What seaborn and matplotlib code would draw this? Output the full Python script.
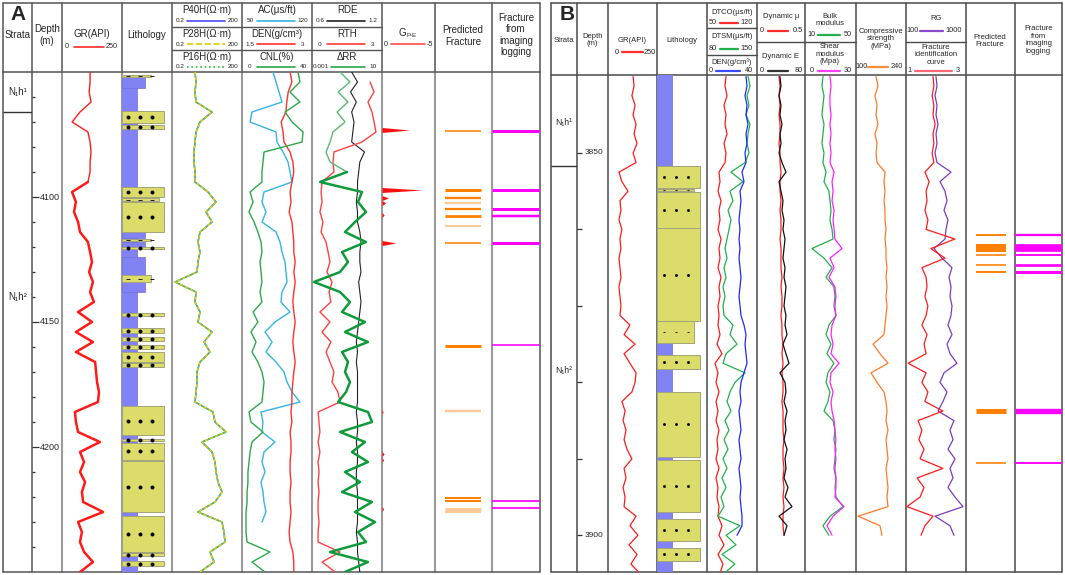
import numpy as np
import seaborn as sns
import matplotlib.pyplot as plt
from matplotlib.patches import Rectangle

sns.set_style("white")
plt.rcParams["font.family"] = ["Liberation Sans", "DejaVu Sans"]

nan = np.nan
W, H = 1065, 575

# =============================================================================
# PANEL A DATA  (4 m sampling, 4050-4250 m)
# =============================================================================

depth_a = np.arange(4050.0, 4250.1, 4.0)

gr_a = [117, 117, 113, 121, 75, 42, 108, 117, 121, 117, 117, 108, 42, 58, 50, 67, 75,
        108, 117, 125, 113, 129, 117, 133, 67, 125, 58, 129, 58, 138, 142, 146, 154,
        150, 54, 58, 67, 158, 75, 92, 75, 96, 83, 88, 171, 67, 83, 75, 92, 129, 75]

p16h = [1.94, 2.14, 1.94, 2.14, 10.4, 3.17, 2.14, 1.94, 1.75, 1.75, 1.94, 1.94, 6.98,
        15.4, 5.73, 10.4, 3.17, 2.60, 3.17, 2.60, 2.36, 0.27, 2.14, 1.94, 3.17, 2.60,
        10.4, 4.70, 8.50, 3.17, 2.36, 2.36, 2.14, 1.94, 11.4, 13.9, 41.2, 3.86, 10.4,
        13.9, 15.4, 18.7, 27.8, 13.9, 2.60, 27.8, 33.9, 37.3, 8.50, 12.6, 3.17]
p28h = list(p16h)
p40h = list(p16h)

ac_a = [81, 84, 87, 90, 60, 58, 84, 85, 91, 96, 98, 100, 72, 70, 74, 70, 84, 88, 90, 93,
        94, 95, 90, 89, 98, 83, 73, 80, 74, 84, 92, 95, 100, 108, 69, 71, 70, 83, 72, 70,
        73, 69, 71, 72, 74, 70, nan, nan, nan, nan, nan]

den_a = [2.53, 2.57, 2.49, 2.46, 2.44, 2.34, 2.38, 2.40, 2.53, 2.59, 2.61, 2.57, 2.53,
         2.55, 2.51, 2.57, 2.59, 2.61, 2.61, 2.64, 2.61, 2.64, 2.61, 2.59, 2.61, 2.64,
         2.61, 2.59, 2.61, 2.64, 2.61, 2.59, 2.57, 2.57, 2.55, 2.57, 2.53, 2.55, 2.55,
         2.53, 2.53, 2.55, 2.53, 2.53, 2.55, 2.53, 2.51, 2.53, 2.59, 2.61, 2.61]

cnl_a = [32.0, 33.1, 27.4, 33.1, 24.6, 28.6, 34.9, 34.3, 12.6, 12.0, 11.4, 11.4, 4.6,
         6.3, 4.0, 6.9, 9.1, 10.9, 11.4, 10.3, 10.9, 11.4, 10.3, 11.4, 6.3, 9.1, 5.1,
         8.0, 5.7, 9.1, 11.4, 12.6, 12.0, 11.4, 4.0, 5.1, 12.0, 5.7, 4.6, 4.0, 3.4, 3.4,
         2.9, 2.9, 2.3, 2.3, 2.3, 2.9, 16.0, 5.7, 13.1]

rde_a = [0.94, 0.99, 0.93, 0.98, 0.94, 0.96, 0.95, 0.94, 1.05, 1.01, 1.00, 0.99, 0.99,
         0.98, 0.99, 0.99, 1.01, 1.02, 1.01, 1.01, 1.02, 1.00, 1.01, 1.02, 1.01, 1.00,
         0.99, 0.98, 0.99, 0.98, 0.99, 0.99, 0.99, 0.99, 0.98, 0.99, 0.99, 0.98, 0.99,
         0.99, 0.98, 0.98, 0.99, 0.99, 0.99, 0.99, 0.98, 0.99, 0.99, 1.00, 1.01]

rth_a = [nan, 2.49, 2.66, 2.40, 2.57, 2.66, 2.74, 2.14, 0.94, 0.90, 0.94, 0.43, 0.39,
         0.43, 0.34, 0.47, 0.39, 0.60, 0.69, 0.77, 0.64, 0.86, 0.73, 0.81, 0.34, 0.77,
         0.43, 0.81, 0.60, 0.77, 0.94, 0.86, 1.11, 1.20, 0.26, 0.30, 0.34, 0.26, 0.34,
         0.26, 0.30, 0.26, 0.30, 0.26, 0.26, 0.30, 0.26, 0.26, 1.20, 0.43, 0.99]

drr_a = [0.040, 0.148, 0.031, 0.114, 0.027, 0.077, 0.0158, 0.0107, 0.0063, 0.0107, 0.100,
         0.0029, 0.72, 0.425, 1.22, 0.286, 0.077, 1.22, 0.052, 0.114, 0.040, 0.0013,
         0.040, 0.148, 0.052, 1.07, 0.077, 1.58, 0.052, 0.114, 0.077, 0.148, 0.088, 0.031,
         1.58, 2.68, 0.040, 1.07, 0.193, 1.58, 0.077, 0.553, 0.052, 2.68, 0.286, 3.98,
         0.425, 1.22, 0.0107, 1.58, 0.077]

# G(P-E) spikes
g_depth_a = [4073.2, 4097.2, 4100.4, 4102.4, 4107.2, 4118.4, 4186.0, 4202.8, 4205.2, 4224.8]
g_peak_a = [-2.6, -3.8, -0.6, -0.35, -0.2, -1.3, -0.1, -0.2, -0.15, -0.15]

# lithology: S sandstone, Z siltstone, A argillaceous siltstone, M silty mudstone
lith_a_top = [4051.2, 4052.0, 4065.6, 4071.2, 4096.0, 4100.4, 4102.0, 4114.0, 4116.8,
              4118.0, 4120.0, 4124.0, 4131.2, 4134.0, 4146.4, 4152.4, 4156.0, 4159.2,
              4162.0, 4166.4, 4183.6, 4196.8, 4198.4, 4205.6, 4227.6, 4242.4, 4245.6]
lith_a_bot = [4052.0, 4056.4, 4070.4, 4072.8, 4100.0, 4101.6, 4114.0, 4116.4, 4117.6,
              4120.0, 4120.8, 4131.2, 4134.0, 4138.0, 4147.6, 4154.4, 4157.6, 4160.8,
              4166.0, 4168.0, 4195.2, 4197.6, 4205.2, 4226.0, 4242.0, 4243.6, 4247.6]
lith_a_kind = ["A", "M", "S", "S", "S", "Z", "S", "M", "A", "M", "S", "M", "A", "M",
               "S", "S", "S", "S", "S", "S", "S", "S", "S", "S", "S", "S", "S"]

pred_a_depth = [4073.5, 4097.2, 4100.5, 4102.5, 4104.7, 4107.6, 4111.5, 4118.3, 4159.5,
                4185.6, 4220.3, 4221.5, 4224.8, 4225.9]
pred_a_thick = [0.6, 1.2, 0.9, 0.9, 0.9, 1.1, 0.8, 0.6, 1.2, 1.0, 0.8, 0.8, 1.2, 0.8]
pred_a_grade = ["high", "high", "high", "low", "high", "high", "low", "high", "high",
                "low", "high", "high", "low", "low"]
img_a_depth = [4073.5, 4097.2, 4104.7, 4107.6, 4118.3, 4159.3, 4221.5, 4224.2]
img_a_thick = [1.2, 1.2, 1.2, 1.0, 1.2, 0.5, 0.7, 0.7]

strata_names = ["N\u2081h\u00b9", "N\u2081h\u00b2"]
strata_a_base = [4066.0]
strata_a_label = [4058.0, 4140.0]

# =============================================================================
# PANEL B DATA  (1.25 m sampling, 3840-3905 m)
# =============================================================================

depth_b = np.arange(3840.0, 3905.1, 1.25)

gr_b = [128, 133, 122, 138, 128, 143, 133, 148, 128, 143, 56, 71, 102, 61, 66, 56, 71,
        61, 66, 56, 61, 66, 56, 61, 66, 61, 112, 82, 138, 82, 112, 143, 138, 122, 71,
        87, 77, 92, 82, 97, 122, 82, 92, 77, 87, 82, 143, 112, 153, 107, 148, 117, 163]

dtco = [76.6, 75.2, 78, 73.8, 76.6, 75.2, 78, 73.8, 76.6, 75.2, 66.8, 68.2, 65.4, 69.6,
        66.8, 68.2, 65.4, 69.6, 66.8, 68.2, 65.4, 69.6, 66.8, 68.2, 65.4, 66.8, 65.4,
        68.2, 64, 71, 61.2, 65.4, 62.6, 66.8, 62.6, 65.4, 62.6, 66.8, 64, 65.4, 62.6,
        66.8, 62.6, 65.4, 64, 66.8, 65.4, 71, 66.8, 73.8, 65.4, 72.4, 68.2]

dtsm = [137.4, 140.2, 136, 138.8, 134.6, 140.2, 137.4, 136, 138.8, 133.2, 113.6, 130.4,
        112.2, 116.4, 109.4, 113.6, 110.8, 108, 105.2, 108, 103.8, 106.6, 102.4, 105.2,
        102.4, 103.8, 116.4, 112.2, 122, 106.6, 102.4, 133.2, 119.2, 112.2, 108, 113.6,
        105.2, 110.8, 103.8, 109.4, 102.4, 108, 101, 106.6, 99.6, 103.8, 95.4, 126.2,
        106.6, 120.6, 101, 119.2, 103.8]

den_b = [31.2, 32, 30.4, 32, 31.2, 32.8, 31.2, 32, 30.4, 31.2, 28, 29.6, 26.4, 27.2, 26.4,
         25.6, 26.4, 25.6, 26.4, 25.6, 26.4, 27.2, 26.4, 25.6, 26.4, 27.2, 29.6, 31.2,
         30.4, 31.2, 32, 29.6, 27.2, 26.4, 27.2, 25.6, 26.4, 27.2, 25.6, 26.4, 27.2, 25.6,
         26.4, 27.2, 26.4, 27.2, 28, 28, 24, nan, nan, nan, nan]

dyn_mu = [0.229, 0.240, 0.229, 0.240, 0.229, 0.240, 0.240, 0.229, 0.240, 0.240, 0.250,
          0.240, 0.240, 0.250, 0.240, 0.250, 0.250, 0.240, 0.250, 0.250, 0.250, 0.260,
          0.250, 0.260, 0.260, 0.250, 0.260, 0.260, 0.271, 0.260, 0.271, 0.260, 0.271,
          0.271, 0.260, 0.271, 0.271, 0.271, 0.281, 0.271, 0.271, 0.281, 0.271, 0.281,
          0.271, 0.281, 0.271, 0.271, 0.281, nan, nan, nan, nan]

dyn_e = [38.3, 40, 36.7, 40, 38.3, 41.7, 38.3, 40, 36.7, 41.7, 48.3, 36.7, 40, 43.3, 41.7,
         45, 43.3, 46.7, 45, 43.3, 46.7, 45, 48.3, 46.7, 45, 48.3, 46.7, 50, 43.3, 48.3,
         53.3, 38.3, 46.7, 48.3, 45, 50, 46.7, 48.3, 45, 50, 46.7, 48.3, 45, 51.7, 46.7,
         58.3, 36.7, 50, 45, nan, nan, nan, nan]

bulk = [24.1, 23.3, 24.9, 24.1, 23.3, 24.9, 24.1, 23.3, 24.9, 24.1, 26.5, 24.9, 28.8,
        29.6, 30.4, 29.6, 31.2, 32, 15.5, 24.9, 31.2, 26.5, 32.7, 33.5, 32.7, 34.3, 28.8,
        26.5, 30.4, 27.2, 32.7, 28, 26.5, 29.6, 28, 24.9, 32, 33.5, 32.7, 34.3, 33.5,
        32.7, 34.3, 33.5, 34.3, 39.8, 29.6, 24.1, 28.8, nan, nan, nan, nan]

shear = [14.7, 15.3, 14.7, 14.7, 15.3, 14.7, 15.3, 14.7, 15.3, 14.7, 17.1, 15.9, 16.5,
         15.9, 17.1, 16.5, 17.1, 17.6, 21.8, 14.7, 17.1, 14.1, 17.6, 18.2, 17.6, 18.2,
         15.9, 15.3, 16.5, 15.3, 20, 15.3, 14.7, 16.5, 15.3, 15.9, 17.1, 17.6, 18.2, 17.6,
         18.2, 17.6, 18.2, 18.2, 17.6, 22.9, 16.5, 12.9, 15.9, nan, nan, nan, nan]

comp = [156, 161.6, 153.2, 158.8, 156, 161.6, 153.2, 158.8, 156, 158.8, 181.2, 178.4,
        181.2, 178.4, 181.2, 181.2, 184, 181.2, 184, 184, 186.8, 184, 186.8, 184, 186.8,
        184, 181.2, 178.4, 147.6, 167.2, 189.6, 142, 158.8, 178.4, 184, 186.8, 184,
        189.6, 184, 186.8, 189.6, 184, 186.8, 189.6, 186.8, 189.6, 105.6, 167.2, 172.8,
        nan, nan, nan, nan]

rg = [550, 565, 535, 565, 550, 580, 550, 565, 535, 565, 775, 610, 685, 715, 670, 730, 700,
      685, 520, 640, 790, 745, 775, 760, 790, 775, 730, 790, 715, 760, 865, 670, 610, 715,
      655, 580, 820, 760, 805, 730, 835, 760, 805, 730, 835, 955, 535, 760, 820,
      nan, nan, nan, nan]

frac_curve = [1.9, 1.93, 1.87, 1.93, 1.9, 1.97, 1.9, 1.93, 1.87, 1.93, 1.63, 1.77, 1.67,
              1.7, 1.63, 1.73, 1.67, 2.63, 1.83, 2.3, 1.53, 1.67, 1.7, 1.63, 1.73, 1.67,
              1.53, 1.7, 1.6, 1.67, 1.07, 1.67, 1.53, 1.73, 1.63, 2.23, 1.4, 1.53, 1.43,
              1.6, 1.47, 2.23, 1.37, 1.6, 1.47, 1.03, 1.9, 1.63, 1.5, nan, nan, nan, nan]

lith_b_top = [3851.7, 3854.7, 3855.1, 3859.8, 3872.0, 3876.4, 3881.2, 3890.1, 3897.9, 3901.7]
lith_b_bot = [3854.6, 3855.0, 3859.8, 3872.0, 3874.9, 3878.2, 3889.7, 3897.0, 3900.7, 3903.3]
lith_b_kind = ["S", "Z", "S", "S", "Z", "S", "S", "S", "S", "S"]

pred_b_depth = [3860.7, 3862.45, 3863.4, 3864.7, 3865.5, 3883.7, 3890.5]
pred_b_thick = [0.25, 1.05, 0.2, 0.2, 0.25, 0.65, 0.2]
img_b_depth = [3860.7, 3862.45, 3863.4, 3864.6, 3865.5, 3883.7, 3890.5]
img_b_thick = [0.3, 1.0, 0.25, 0.35, 0.4, 0.7, 0.25]

strata_b_base = [3851.7]
strata_b_label = [3846.0, 3878.5]

DLIM_A = (4050.0, 4250.0)
DLIM_B = (3839.8, 3904.8)

# =============================================================================
# FIGURE
# =============================================================================

fig = plt.figure(figsize=(W / 100, H / 100), dpi=100)
bg = fig.add_axes([0, 0, 1, 1])
bg.set_xlim(0, W)
bg.set_ylim(H, 0)
bg.axis("off")

tracks = []


def body(x0, x1, y0, xlim, dlim, log=False):
    ax = fig.add_axes([x0 / W, 1 - 572 / H, (x1 - x0) / W, (572 - y0) / H],
                      label=f"t{len(tracks)}")
    if log:
        ax.set_xscale("log")
    ax.axis("off")
    tracks.append((ax, xlim, dlim))
    return ax


def curve(ax, vals, depth, color, lw=1.0, ls="-"):
    sns.lineplot(x=np.asarray(vals, dtype=float), y=depth, ax=ax, sort=False,
                 estimator=None, color=color, lw=lw, linestyle=ls)


def lithology(ax, base, tops, bots, kinds, widths, dlim, dots, dot_s):
    ax.add_patch(Rectangle((0, base), widths["mud"], dlim[1] - base,
                           facecolor="#8282f5", edgecolor="none"))
    for t, b, k in zip(tops, bots, kinds):
        if k == "M":
            ax.add_patch(Rectangle((0, t), widths[k], b - t, facecolor="#8282f5",
                                   edgecolor="#7070d8", lw=0.5))
    for t, b, k in zip(tops, bots, kinds):
        if k == "M":
            continue
        ax.add_patch(Rectangle((0, t), widths[k], b - t, facecolor="#dcdc6a",
                               edgecolor="#a3a37c", lw=0.7))
        mid = (t + b) / 2
        marker = "o" if k == "S" else "_"
        ax.scatter(dots, [mid] * len(dots), s=dot_s, c="black", marker=marker,
                   lw=0.6, zorder=3)


def fractures(ax, depths, thick, colors, x0, x1, px_per_m):
    # zone thickness in metres -> line width in points, at least ~1.6 px
    for d, t, c in zip(depths, thick, colors):
        lw = max(t * px_per_m, 1.6) * 0.72
        ax.hlines(d, x0, x1, color=c, lw=lw, capstyle="butt")


def key(xl, xa, xb, xr, y, left, right, color, ls="-", fs=4.6, lw=1.2):
    bg.text(xl, y, left, ha="center", va="center", fontsize=fs)
    bg.plot([xa, xb], [y, y], color=color, lw=lw, ls=ls)
    bg.text(xr, y, right, ha="center", va="center", fontsize=fs)


# =============================================================================
# PANEL A FRAME + HEADER
# =============================================================================

cols_a = [3, 32, 62, 122, 172, 242, 312, 382, 435, 492, 540]
for i, x in enumerate(cols_a):
    bg.plot([x, x], [3, 72], color="#555555", lw=1.1)
    c = "#555555" if i in (0, 1, len(cols_a) - 1) else "#9a9a9a"
    bg.plot([x, x], [72, 572], color=c, lw=1.5 if c == "#9a9a9a" else 1.1)
bg.plot([3, 540], [3, 3], color="#555555", lw=1.1)
bg.plot([3, 540], [72, 72], color="#555555", lw=1.1)
bg.plot([3, 540], [572, 572], color="#555555", lw=1.1)
for y in (27, 50):
    bg.plot([172, 382], [y, y], color="#555555", lw=1.0)

bg.text(18, 14, "A", ha="center", va="center", fontsize=15, fontweight="bold")
for s, x, y in [("Strata", 17.5, 35), ("Depth\n(m)", 47, 35), ("GR(API)", 92, 34),
                ("Lithology", 147, 35), ("Predicted\nFracture", 463, 36),
                ("Fracture\nfrom\nimaging\nlogging", 516, 35)]:
    bg.text(x, y, s, ha="center", va="center", fontsize=7)
bg.text(406, 33, "G", ha="right", va="center", fontsize=7)
bg.text(406.5, 35.5, "P-E", ha="left", va="center", fontsize=4.3)

key(67, 74, 104, 112, 47, "0", "250", "#ff2a2a", fs=5.2)
key(386, 391, 425, 430, 44, "0", "-5", "#ff4a4a", fs=5.2)

rows_a = [
    ("P40H(\u03a9\u00b7m)", 207, "0.2", "200", "#4b4bff", "-"),
    ("P28H(\u03a9\u00b7m)", 207, "0.2", "200", "#e8c800", "--"),
    ("P16H(\u03a9\u00b7m)", 207, "0.2", "200", "#3cb04a", ":"),
    ("AC(\u03bcs/ft)", 277, "50", "120", "#33b5e5", "-"),
    ("DEN(g/cm\u00b3)", 277, "1.5", "3", "#ff3030", "-"),
    ("CNL(%)", 277, "0", "40", "#2ca84a", "-"),
    ("RDE", 347, "0.6", "1.2", "#222222", "-"),
    ("RTH", 347, "0", "3", "#ff3b3b", "-"),
    ("\u0394RR", 347, "0.001", "10", "#2ca84a", "-"),
]
row_y = [(10, 20.5), (34, 44), (57, 67)]
for k, (lab, xc, lo, hi, col, ls) in enumerate(rows_a):
    yl, ys = row_y[k % 3]
    bg.text(xc, yl, lab, ha="center", va="center", fontsize=7)
    x0 = xc - 35
    xl = x0 + 8 if lo != "0.001" else x0 + 9
    xa = x0 + 15 if lo != "0.001" else x0 + 19
    key(xl, xa, x0 + 53, x0 + 61, ys, lo, hi, col, ls=ls)

# =============================================================================
# PANEL A TRACKS
# =============================================================================

ax = body(3, 32, 72, (0, 1), DLIM_A)
ax.hlines(strata_a_base, 0, 1, color="#333333", lw=1.0)
for name, d in zip(strata_names, strata_a_label):
    ax.text(0.5, d, name, ha="center", va="center", fontsize=7)

ax = body(32, 62, 72, (0, 1), DLIM_A)
for d in range(4060, 4250, 10):
    major = d % 50 == 0
    ax.hlines(d, 0, 0.22 if major else 0.11, color="#333333", lw=0.9)
    if major:
        ax.text(0.26, d, str(d), ha="left", va="center", fontsize=6.5)

ax = body(62, 122, 72, (0, 250), DLIM_A)
curve(ax, gr_a[:12], depth_a[:12], "#ff1a1a", lw=1.0)
curve(ax, gr_a[11:], depth_a[11:], "#ff1a1a", lw=1.8)

ax = body(122, 172, 72, (0, 1), DLIM_A)
lithology(ax, 4051.2, lith_a_top, lith_a_bot, lith_a_kind,
          {"mud": 0.32, "M": 0.46, "A": 0.58, "Z": 0.74, "S": 0.84}, DLIM_A,
          [0.12, 0.36, 0.60], 5)

ax = body(172, 242, 72, (0.2, 200), DLIM_A, log=True)
curve(ax, p40h, depth_a, "#4b4bff", lw=1.0)
curve(ax, p16h, depth_a, "#5cbf5c", lw=1.1)
curve(ax, p28h, depth_a, "#e8d200", lw=1.0, ls=(0, (2, 2)))

ax = body(242, 312, 72, (50, 120), DLIM_A)
curve(ax, ac_a, depth_a, "#33b5e5", lw=1.0)
ax = body(242, 312, 72, (1.5, 3), DLIM_A)
curve(ax, den_a, depth_a, "#ff3030", lw=1.0)
ax = body(242, 312, 72, (0, 40), DLIM_A)
curve(ax, cnl_a, depth_a, "#2ca84a", lw=1.0)

ax = body(312, 382, 72, (0.6, 1.2), DLIM_A)
curve(ax, rde_a, depth_a, "#222222", lw=0.8)
ax = body(312, 382, 72, (0, 3), DLIM_A)
curve(ax, rth_a, depth_a, "#ff4040", lw=1.0)
ax = body(312, 382, 72, (0.001, 10), DLIM_A, log=True)
curve(ax, drr_a[:11], depth_a[:11], "#5cb870", lw=1.0)
curve(ax, drr_a[10:], depth_a[10:], "#0f9a3c", lw=1.8)

ax = body(382, 435, 72, (0, -5), DLIM_A)
for d, p in zip(g_depth_a, g_peak_a):
    ax.fill_betweenx([d - 1.0, d, d + 1.0], [0, p, 0], 0, color="#ff1010", lw=0)

ax = body(435, 492, 72, (0, 1), DLIM_A)
fractures(ax, pred_a_depth, pred_a_thick,
          ["#ff7f00" if g == "high" else "#fbc99a" for g in pred_a_grade],
          0.175, 0.81, 2.5)
ax = body(492, 540, 72, (0, 1), DLIM_A)
fractures(ax, img_a_depth, img_a_thick, ["#ff00ff"] * len(img_a_depth), 0.0, 1.0, 2.5)

# =============================================================================
# PANEL B FRAME + HEADER
# =============================================================================

cols_b = [551, 577, 608, 657, 707, 757, 805, 856, 906, 966, 1015, 1062]
for x in cols_b:
    bg.plot([x, x], [3, 572], color="#4a4a4a", lw=1.1)
for y in (3, 75, 572):
    bg.plot([551, 1062], [y, y], color="#4a4a4a", lw=1.1)
for x0, x1, y in [(707, 757, 28), (707, 757, 55), (757, 805, 42), (805, 856, 42),
                  (906, 966, 42)]:
    bg.plot([x0, x1], [y, y], color="#4a4a4a", lw=1.0)

bg.text(567, 14, "B", ha="center", va="center", fontsize=15, fontweight="bold")
fs_b = 5.5
for s, x, y in [("Strata", 564, 41), ("Depth\n(m)", 592.5, 40), ("GR(API)", 632, 40),
                ("Lithology", 682, 41), ("DTCO(\u03bcs/ft)", 732, 13),
                ("DTSM(\u03bcs/ft)", 732, 37), ("DEN(g/cm\u00b3)", 732, 62),
                ("Dynamic \u03bc", 781, 16), ("Dynamic E", 781, 57),
                ("Bulk\nmodulus", 830, 20), ("Shear\nmodulus\n(Mpa)", 830, 54),
                ("Compressive\nstrength\n(MPa)", 881, 39), ("RG", 936, 18),
                ("Fracture\nidentification\ncurve", 936, 55),
                ("Predicted\nFracture", 990, 41),
                ("Fracture\nfrom\nimaging\nlogging", 1038.5, 40)]:
    bg.text(x, y, s, ha="center", va="center", fontsize=fs_b, linespacing=1.1)

keys_b = [
    (617, 622, 643, 650, 52, "0", "250", "#ff2a2a"),
    (712.5, 720, 738, 747, 23, "50", "120", "#ff2a2a"),
    (712.5, 720, 738, 747, 49, "80", "150", "#22b04a"),
    (710.5, 716, 740, 749, 71, "0", "40", "#3a4cff"),
    (762, 768, 788, 798, 31, "0", "0.5", "#ff2a2a"),
    (762, 768, 788, 799, 71, "0", "80", "#333333"),
    (812, 818, 840, 848, 35, "10", "50", "#22b04a"),
    (811.5, 818, 840, 848, 71, "0", "30", "#ff40ff"),
    (862, 868, 888, 897, 67, "100", "240", "#ff8a3a"),
    (912.5, 920, 943, 954, 31, "100", "1000", "#8a4cc8"),
    (909, 915, 952, 958, 71, "1", "3", "#ff6a7a"),
]
for xl, xa, xb, xr, y, lo, hi, col in keys_b:
    key(xl, xa, xb, xr, y, lo, hi, col, fs=5.3, lw=1.6)

# =============================================================================
# PANEL B TRACKS
# =============================================================================

ax = body(551, 577, 75, (0, 1), DLIM_B)
ax.hlines(strata_b_base, 0, 1, color="#333333", lw=1.0)
for name, d in zip(strata_names, strata_b_label):
    ax.text(0.5, d, name, ha="center", va="center", fontsize=6.2)

ax = body(577, 608, 75, (0, 1), DLIM_B)
for d in range(3850, 3901, 10):
    ax.hlines(d, 0, 0.17, color="#333333", lw=0.9)
    if d % 50 == 0:
        ax.text(0.25, d, str(d), ha="left", va="center", fontsize=6)

ax = body(608, 657, 75, (0, 250), DLIM_B)
curve(ax, gr_b, depth_b, "#ff1a1a", lw=0.9)

ax = body(657, 707, 75, (0, 1), DLIM_B)
lithology(ax, DLIM_B[0], lith_b_top, lith_b_bot, lith_b_kind,
          {"mud": 0.32, "Z": 0.74, "S": 0.86}, DLIM_B, [0.14, 0.38, 0.62], 2)

ax = body(707, 757, 75, (50, 120), DLIM_B)
curve(ax, dtco, depth_b, "#ff1a1a", lw=0.9)
ax = body(707, 757, 75, (80, 150), DLIM_B)
curve(ax, dtsm, depth_b, "#22b04a", lw=0.9)
ax = body(707, 757, 75, (0, 40), DLIM_B)
curve(ax, den_b, depth_b, "#1a2cff", lw=0.9)

ax = body(757, 805, 75, (0, 0.5), DLIM_B)
curve(ax, dyn_mu, depth_b, "#ff1a1a", lw=0.9)
ax = body(757, 805, 75, (0, 80), DLIM_B)
curve(ax, dyn_e, depth_b, "#111111", lw=0.9)

ax = body(805, 856, 75, (10, 50), DLIM_B)
curve(ax, bulk, depth_b, "#22b04a", lw=0.9)
ax = body(805, 856, 75, (0, 30), DLIM_B)
curve(ax, shear, depth_b, "#ff20ff", lw=0.9)

ax = body(856, 906, 75, (100, 240), DLIM_B)
curve(ax, comp, depth_b, "#ff7a2a", lw=0.9)

ax = body(906, 966, 75, (100, 1000), DLIM_B)
curve(ax, rg, depth_b, "#7a3cc0", lw=0.9)
ax = body(906, 966, 75, (1, 3), DLIM_B)
curve(ax, frac_curve, depth_b, "#ff1a1a", lw=0.9)

ax = body(966, 1015, 75, (0, 1), DLIM_B)
fractures(ax, pred_b_depth, pred_b_thick, ["#ff7f00"] * len(pred_b_depth),
          0.2, 0.82, 7.64)
ax = body(1015, 1062, 75, (0, 1), DLIM_B)
fractures(ax, img_b_depth, img_b_thick, ["#ff00ff"] * len(img_b_depth), 0.0, 1.0, 7.64)

for ax, xlim, dlim in tracks:
    ax.set_xlim(*xlim)
    ax.set_ylim(dlim[1], dlim[0])

fig.savefig("out.png", dpi=100)
